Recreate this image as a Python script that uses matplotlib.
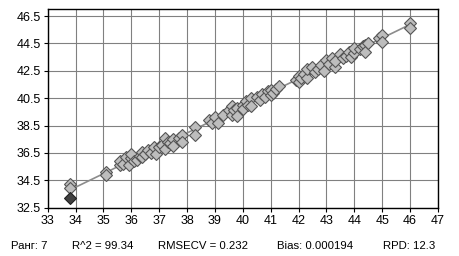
import numpy as np
import matplotlib
matplotlib.use('Agg')
from matplotlib import pyplot as plt

plt.rcParams['font.family'] = ['Liberation Sans', 'DejaVu Sans']

# reference vs predicted
x_ref = [33.8, 33.8, 35.1, 35.1,
         35.6, 35.6, 35.7, 35.8, 35.9, 36.0, 36.0, 36.1,
         36.2, 36.3, 36.4, 36.4, 36.5, 36.6, 36.7, 36.8, 36.9,
         37.0, 37.1, 37.2, 37.2, 37.3, 37.4, 37.5, 37.5,
         37.7, 37.8, 37.8, 38.3, 38.3,
         38.8, 38.9, 39.0, 39.1, 39.3,
         39.5, 39.6, 39.6, 39.7, 39.8, 39.8,
         40.0, 40.0, 40.1, 40.2, 40.3, 40.3,
         40.5, 40.6, 40.7, 40.8, 40.9, 41.0, 41.0, 41.1, 41.2, 41.3,
         41.9, 42.0, 42.0, 42.1, 42.2, 42.3, 42.3,
         42.5, 42.6, 42.7, 42.8, 42.9,
         43.0, 43.1, 43.2, 43.3, 43.3,
         43.5, 43.6, 43.7, 43.8, 43.9, 44.0, 44.0,
         44.2, 44.3, 44.4, 44.4, 44.5,
         44.9, 45.0, 45.0, 46.0, 46.0]
y_pred = [34.2, 33.9, 35.1, 34.9,
          35.6, 35.9, 35.7, 36.2, 35.6, 36.1, 36.4, 35.9,
          36.0, 36.3, 36.6, 36.2, 36.4, 36.7, 36.5, 36.9, 36.4,
          36.9, 37.1, 37.6, 36.8, 37.3, 37.2, 37.5, 37.0,
          37.6, 37.8, 37.3, 38.4, 37.8,
          38.9, 38.7, 39.1, 38.7, 39.3,
          39.6, 39.9, 39.3, 39.6, 39.8, 39.2,
          40.0, 39.7, 40.3, 40.0, 40.5, 39.9,
          40.6, 40.4, 40.8, 40.6, 41.0, 40.7, 41.1, 40.9, 41.2, 41.4,
          41.8, 42.1, 41.7, 42.0, 42.3, 42.0, 42.6,
          42.8, 42.4, 42.6, 42.9, 42.5,
          43.3, 43.0, 43.4, 42.8, 43.2,
          43.7, 43.4, 43.6, 43.9, 43.5, 43.8, 44.2,
          44.1, 44.3, 44.4, 43.9, 44.5,
          44.9, 45.1, 44.6, 46.0, 45.6]
# outlier drawn darker
x_dark = [33.8]
y_dark = [33.2]

x_ticks = [33, 34, 35, 36, 37, 38, 39, 40, 41, 42, 43, 44, 45, 46, 47]
y_ticks = [32.5, 34.5, 36.5, 38.5, 40.5, 42.5, 44.5, 46.5]

stats = ['Ранг: 7', 'R^2 = 99.34', 'RMSECV = 0.232', 'Bias: 0.000194', 'RPD: 12.3']
stats_x = [11, 72, 158, 277, 383]

fig = plt.figure(figsize=(4.59, 2.56), dpi=100)
ax = fig.add_axes([0.104, 0.189, 0.850, 0.775])

k, b = np.polyfit(x_ref, y_pred, 1)
lx = np.array([min(x_ref), max(x_ref)])
ax.plot(lx, k * lx + b, color='#8c8c8c', lw=1.2, zorder=2)

ax.plot(x_ref, y_pred, 'D', ms=5.8, mfc='#bdbdbd', mec='#555555', mew=0.8, zorder=3)
ax.plot(x_dark, y_dark, 'D', ms=5.8, mfc='#404040', mec='#202020', mew=0.8, zorder=3)

ax.set_xlim(33, 47)
ax.set_ylim(32.5, 47)
ax.set_xticks(x_ticks)
ax.set_yticks(y_ticks)
ax.grid(True, color='#808080', lw=0.8)
ax.set_axisbelow(True)
ax.tick_params(labelsize=9, length=3, width=0.8, color='black', pad=2)
for s in ax.spines.values():
    s.set_linewidth(1.0)

for t, px in zip(stats, stats_x):
    fig.text(px / 459, 1 - 246 / 256, t, fontsize=8.2, va='center', ha='left')

fig.savefig('out.png', dpi=100)
